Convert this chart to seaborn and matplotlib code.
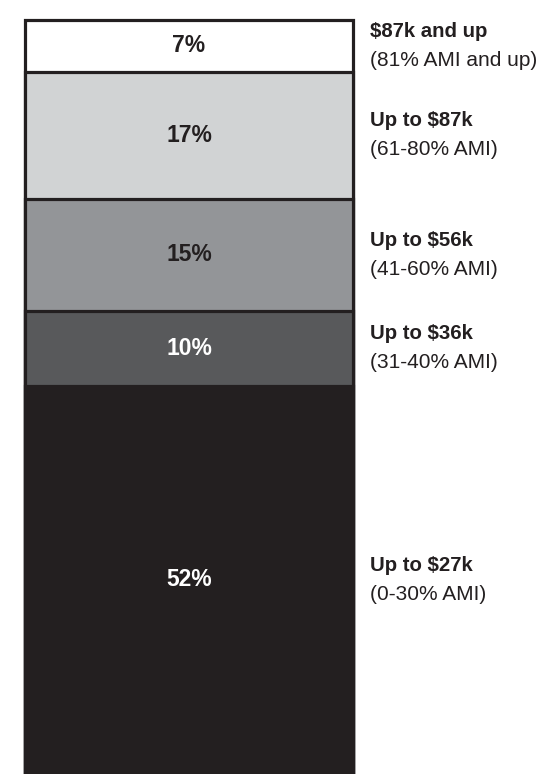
import matplotlib
matplotlib.use("Agg")
import matplotlib.pyplot as plt
import seaborn as sns
import numpy as np
import pandas as pd

# shares of households by income band, bottom to top
bands = ["Up to $27k", "Up to $36k", "Up to $56k", "Up to $87k", "$87k and up"]
ami = ["(0-30% AMI)", "(31-40% AMI)", "(41-60% AMI)", "(61-80% AMI)", "(81% AMI and up)"]
shares = [52, 10, 15, 17, 7]
colors = ["#231f20", "#58595b", "#939598", "#d1d3d4", "#ffffff"]
text_colors = ["#ffffff", "#ffffff", "#231f20", "#231f20", "#231f20"]

sns.set_theme(style="white")
plt.rcParams["font.family"] = ["Liberation Sans", "DejaVu Sans"]

tops = np.cumsum(shares)
bottoms = tops - np.array(shares)
total = tops[-1]

fig = plt.figure(figsize=(5.54, 7.74), dpi=100)
ax = fig.add_axes([18 / 554, 0, 342 / 554, 760 / 774])

# stacked bar: draw cumulative heights from the tallest down
for i in range(len(shares) - 1, -1, -1):
    df = pd.DataFrame({"x": ["all"], "y": [tops[i]]})
    sns.barplot(data=df, x="x", y="y", color=colors[i], width=1.0,
                edgecolor="#231f20", linewidth=2.3, saturation=1, ax=ax)

ax.set_xlim(-0.5198, 0.5198)
ax.set_ylim(0, total * 760 / 754.5)
ax.axis("off")

for i in range(len(shares)):
    mid = (bottoms[i] + tops[i]) / 2
    ax.text(0, mid, f"{shares[i]}%", ha="center", va="center",
            fontsize=16.5, fontweight="bold", color=text_colors[i])
    ax.annotate(bands[i], xy=(1.0, mid), xycoords=("axes fraction", "data"),
                xytext=(7, 10.5), textcoords="offset points",
                ha="left", va="center", fontsize=14.7, fontweight="bold",
                color="#231f20", annotation_clip=False)
    ax.annotate(ami[i], xy=(1.0, mid), xycoords=("axes fraction", "data"),
                xytext=(7, -10.5), textcoords="offset points",
                ha="left", va="center", fontsize=15, color="#231f20",
                annotation_clip=False)

fig.savefig("out.png", dpi=100, facecolor="white")
